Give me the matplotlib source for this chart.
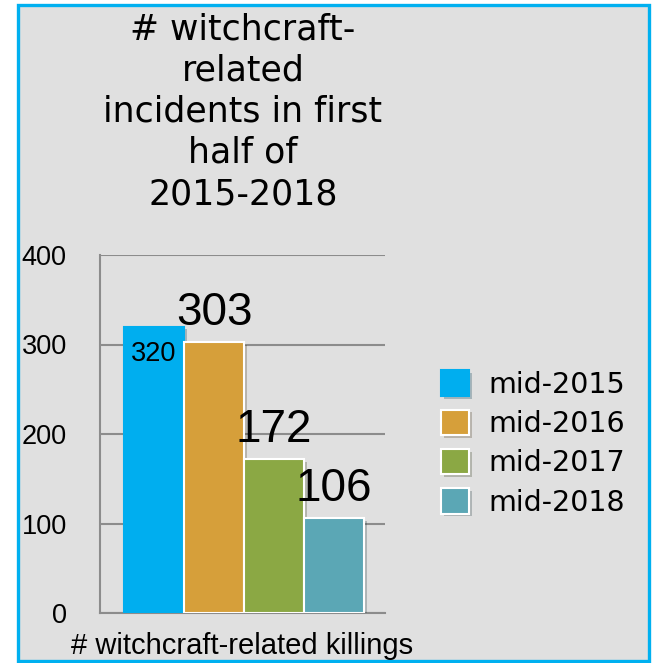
import matplotlib.pyplot as plt
import matplotlib.patheffects as pe
from matplotlib.patches import Rectangle

# data
series = ["mid-2015", "mid-2016", "mid-2017", "mid-2018"]
values = [320, 303, 172, 106]
colors = ["#00AEEF", "#D69F3A", "#8BA844", "#5BA7B5"]
edges = ["#00AEEF", "white", "white", "white"]
yticks = [0, 100, 200, 300, 400]
title = "# witchcraft-\nrelated\nincidents in first\nhalf of\n2015-2018"
xlabel = "# witchcraft-related killings"

W, H = 654, 663
fig = plt.figure(figsize=(W / 100, H / 100), dpi=100)
fig.patch.set_facecolor("white")

# grey panel with blue frame
frame = Rectangle((18 / W, 1 - 661 / H), (649 - 18) / W, (661 - 5) / H,
                  transform=fig.transFigure, facecolor="#E0E0E0",
                  edgecolor="#00B0F0", linewidth=2.4, zorder=-1)
fig.patches.append(frame)

ax = fig.add_axes([100 / W, 1 - 613 / H, (385 - 100) / W, (613 - 255) / H])
ax.set_facecolor("none")
ax.set_zorder(2)

shadow = [pe.SimplePatchShadow(offset=(2, -2), alpha=0.25), pe.Normal()]
for i, (lab, v) in enumerate(zip(series, values)):
    b = ax.bar(i, v, width=1.0, color=colors[i], edgecolor=edges[i],
               linewidth=1.5, label=lab, zorder=3)
    for p in b:
        p.set_path_effects(shadow)

# value labels
ax.annotate(str(values[0]), (0, values[0]), xytext=(0, -25),
            textcoords="offset points", ha="center", va="baseline",
            fontsize=19.5, family="Liberation Sans", zorder=5)
for i in range(1, len(values)):
    ax.annotate(str(values[i]), (i, values[i]), xytext=(0, 12),
                textcoords="offset points", ha="center", va="baseline",
                fontsize=33, family="Liberation Sans", zorder=5)

ax.set_xlim(-0.9, 3.85)
ax.set_ylim(0, 400)
ax.set_yticks(yticks)
ax.set_xticks([])
ax.yaxis.grid(True, color="#8C8C8C", linewidth=1.5, zorder=1)
ax.set_axisbelow(True)
for s in ["top", "right"]:
    ax.spines[s].set_visible(False)
for s in ["left", "bottom"]:
    ax.spines[s].set_color("#8C8C8C")
    ax.spines[s].set_linewidth(1.5)
ax.tick_params(axis="y", length=0, pad=24, labelsize=19.5)
for t in ax.get_yticklabels():
    t.set_family("Liberation Sans")

ax.set_xlabel(xlabel, fontsize=21, family="Liberation Sans", labelpad=14)

fig.text(243 / W, 1 - 12 / H, title, ha="center", va="top",
         fontsize=25, family="DejaVu Sans", linespacing=1.27, zorder=3)

leg = ax.legend(loc="center left", bbox_to_anchor=(441 / W, 1 - 443.5 / H),
                bbox_transform=fig.transFigure, frameon=False,
                prop={"family": "DejaVu Sans", "size": 20.5},
                handlelength=1.0, handleheight=1.0, handletextpad=0.65,
                labelspacing=0.38, borderaxespad=0, borderpad=0)

fig.savefig("out.png", dpi=100)
